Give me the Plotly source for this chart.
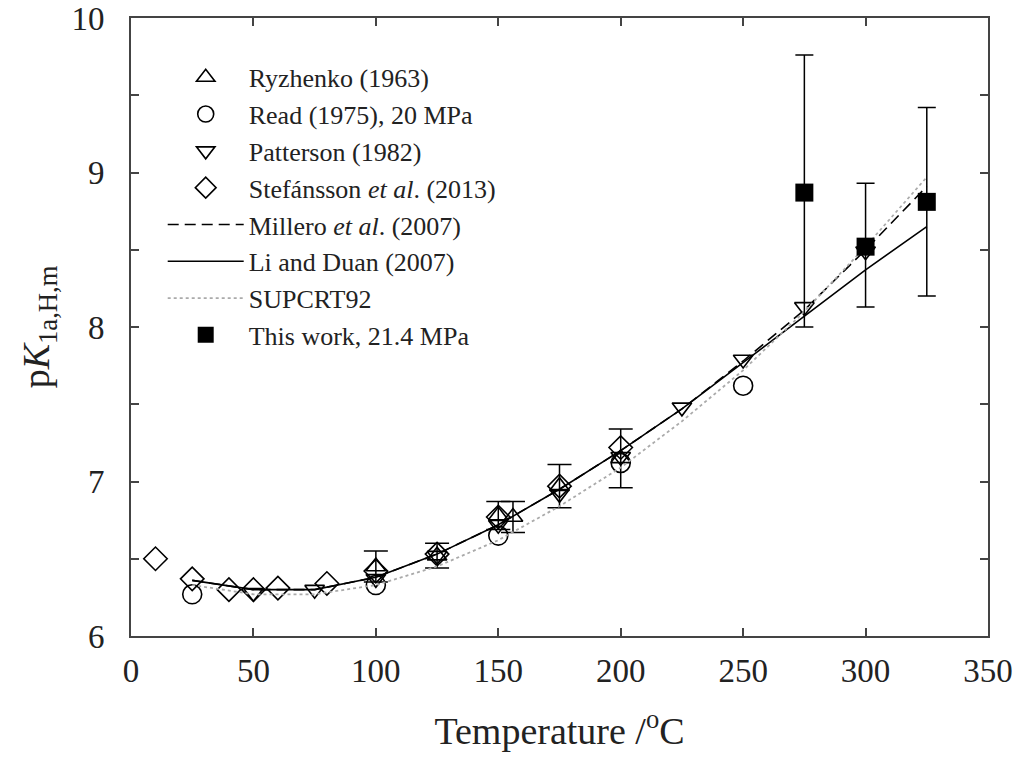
import plotly.graph_objects as go

# Ryzhenko (1963)
ryz_t = [100, 125, 150, 156, 175, 200]
ryz_pk = [6.45, 6.52, 6.78, 6.77, 6.97, 7.15]
ryz_err = [0.10, 0.08, 0.09, 0.10, 0.14, 0.19]

# Read (1975), 20 MPa
read_t = [25, 100, 150, 200, 250]
read_pk = [6.27, 6.33, 6.65, 7.12, 7.62]

# Patterson (1982)
pat_t = [50, 75, 100, 125, 150, 175, 200, 225, 250, 275, 300]
pat_pk = [6.28, 6.30, 6.37, 6.52, 6.72, 6.92, 7.16, 7.48, 7.79, 8.13, 8.49]

# Stefánsson et al. (2013)
ste_t = [10, 25, 40, 50, 60, 80, 100, 125, 150, 175, 200]
ste_pk = [6.50, 6.37, 6.30, 6.30, 6.31, 6.34, 6.42, 6.53, 6.77, 6.97, 7.22]

# Model curves
curve_t = [25, 50, 75, 100, 125, 150, 175, 200, 225, 250, 275, 300, 325]
millero_pk = [6.36, 6.30, 6.30, 6.38, 6.53, 6.72, 6.95, 7.20, 7.47, 7.78, 8.11, 8.50, 8.91]
liduan_pk = [6.36, 6.30, 6.30, 6.38, 6.53, 6.72, 6.95, 7.20, 7.47, 7.77, 8.07, 8.37, 8.65]
supcrt_pk = [6.33, 6.27, 6.27, 6.33, 6.45, 6.62, 6.84, 7.09, 7.39, 7.72, 8.10, 8.52, 8.97]

# This work, 21.4 MPa
tw_t = [275, 300, 325]
tw_pk = [8.87, 8.52, 8.81]
tw_err_plus = [0.89, 0.41, 0.61]
tw_err_minus = [0.87, 0.39, 0.61]

x_ticks = [0, 50, 100, 150, 200, 250, 300, 350]
y_ticks = [6, 7, 8, 9, 10]

FONT = "Liberation Serif"
fig = go.Figure()

mk_line = dict(color="black", width=1.6)

fig.add_trace(go.Scatter(
    x=ryz_t, y=ryz_pk, mode="markers", name="Ryzhenko (1963)",
    marker=dict(symbol="triangle-up-open", size=17, color="black", line=mk_line),
    error_y=dict(type="data", array=ryz_err, color="black", thickness=1.5, width=12)))
fig.add_trace(go.Scatter(
    x=read_t, y=read_pk, mode="markers", name="Read (1975), 20 MPa",
    marker=dict(symbol="circle-open", size=19, color="black", line=mk_line)))
fig.add_trace(go.Scatter(
    x=pat_t, y=pat_pk, mode="markers", name="Patterson (1982)",
    marker=dict(symbol="triangle-down-open", size=17, color="black", line=mk_line)))
fig.add_trace(go.Scatter(
    x=ste_t, y=ste_pk, mode="markers", name="Stefánsson <i>et al</i>. (2013)",
    marker=dict(symbol="diamond-open", size=18, color="black", line=mk_line)))
fig.add_trace(go.Scatter(
    x=curve_t, y=millero_pk, mode="lines", name="Millero <i>et al</i>. (2007)",
    line=dict(color="black", width=1.6, dash="11px,6px")))
fig.add_trace(go.Scatter(
    x=curve_t, y=liduan_pk, mode="lines", name="Li and Duan (2007)",
    line=dict(color="black", width=1.6)))
fig.add_trace(go.Scatter(
    x=curve_t, y=supcrt_pk, mode="lines", name="SUPCRT92",
    line=dict(color="#aaaaaa", width=1.8, dash="dot")))
fig.add_trace(go.Scatter(
    x=tw_t, y=tw_pk, mode="markers", name="This work, 21.4 MPa",
    marker=dict(symbol="square", size=18, color="black"),
    error_y=dict(type="data", symmetric=False, array=tw_err_plus, arrayminus=tw_err_minus,
                 color="black", thickness=1.5, width=9)))

axis_common = dict(
    showline=True, linecolor="#444444", linewidth=2, mirror="allticks",
    ticks="inside", ticklen=8, tickwidth=1.5, tickcolor="#444444",
    showgrid=False, zeroline=False, automargin=False,
    tickfont=dict(family=FONT, size=33, color="#222222"),
)

fig.update_layout(
    width=1017, height=761,
    margin=dict(l=131, r=29, t=18, b=125),
    plot_bgcolor="white", paper_bgcolor="white",
    font=dict(family=FONT, color="#222222"),
    xaxis=dict(range=[0, 350], tickvals=x_ticks, ticktext=[str(v) for v in x_ticks],
               title=dict(text="Temperature /<sup>o</sup>C", font=dict(family=FONT, size=38), standoff=30),
               ticklabelstandoff=4, **axis_common),
    yaxis=dict(range=[6, 10], tickvals=y_ticks, ticktext=[str(v) for v in y_ticks],
               title=dict(text="p<i>K</i><sub>1a,H,m</sub>", font=dict(family=FONT, size=38), standoff=10),
               minor=dict(dtick=0.5, ticks="inside", ticklen=8, tickwidth=1.5, tickcolor="#444444"),
               ticklabelstandoff=18, **axis_common),
    legend=dict(x=0.037, y=0.942, xanchor="left", yanchor="top",
                font=dict(family=FONT, size=26, color="#222222"),
                bgcolor="rgba(0,0,0,0)", itemwidth=76,
                traceorder="normal"),
    showlegend=True,
)

fig.write_html("out.html", config={"displayModeBar": False},
               post_script="document.body.style.margin='0';document.body.style.overflow='hidden';")
